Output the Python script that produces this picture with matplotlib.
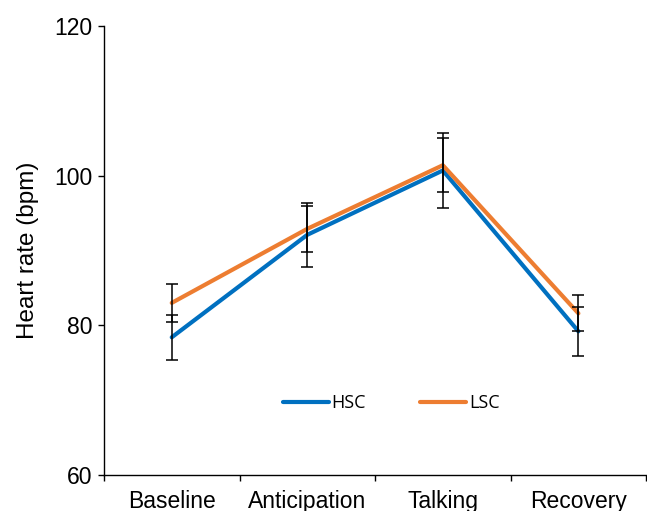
import numpy as np
import matplotlib
matplotlib.use('Agg')
import matplotlib.pyplot as plt

phases = ["Baseline", "Anticipation", "Talking", "Recovery"]
hsc = [78.4, 92.1, 100.7, 79.2]
hsc_err = [3.0, 4.3, 5.0, 3.3]
lsc = [83.0, 92.9, 101.4, 81.6]
lsc_err = [2.5, 3.1, 3.6, 2.4]

BLUE = "#0070C0"
ORANGE = "#ED7D31"

plt.rcParams['font.family'] = ['Liberation Sans', 'DejaVu Sans']

fig = plt.figure(figsize=(6.47, 5.11), dpi=100)
ax = fig.add_axes([0.1607, 0.0705, 0.838, 0.8785])

x = np.arange(len(phases))
ax.plot(x, hsc, color=BLUE, lw=3, solid_capstyle='round', solid_joinstyle='round',
        label="HSC", zorder=2)
ax.plot(x, lsc, color=ORANGE, lw=3, solid_capstyle='round', solid_joinstyle='round',
        label="LSC", zorder=2)
ax.errorbar(x, hsc, yerr=hsc_err, fmt='none', ecolor='black', elinewidth=1.1,
            capsize=4, capthick=1.1, zorder=3)
ax.errorbar(x, lsc, yerr=lsc_err, fmt='none', ecolor='black', elinewidth=1.1,
            capsize=4, capthick=1.1, zorder=3)

ax.set_xlim(-0.5, 3.5)
ax.set_ylim(60, 120)
ax.set_yticks([60, 80, 100, 120])
ax.set_xticks(x)
ax.set_xticklabels(phases)
ax.set_xticks(np.arange(-0.5, 4.0, 1.0), minor=True)
ax.tick_params(axis='x', which='major', length=0, pad=11, labelsize=16.5)
ax.tick_params(axis='x', which='minor', length=4, width=1)
ax.tick_params(axis='y', length=4.5, width=1, pad=4, labelsize=16.5)
ax.set_ylabel("Heart rate (bpm)", fontsize=17.5, labelpad=11)

for s in ['top', 'right']:
    ax.spines[s].set_visible(False)
for s in ['left', 'bottom']:
    ax.spines[s].set_linewidth(1)

leg = ax.legend(loc='center', bbox_to_anchor=(0.530, 0.160), ncol=2, frameon=False,
                handlelength=2.55, handletextpad=0.17, columnspacing=3.0,
                prop={'family': 'Open Sans', 'size': 13})

fig.savefig('out.png', dpi=100)
